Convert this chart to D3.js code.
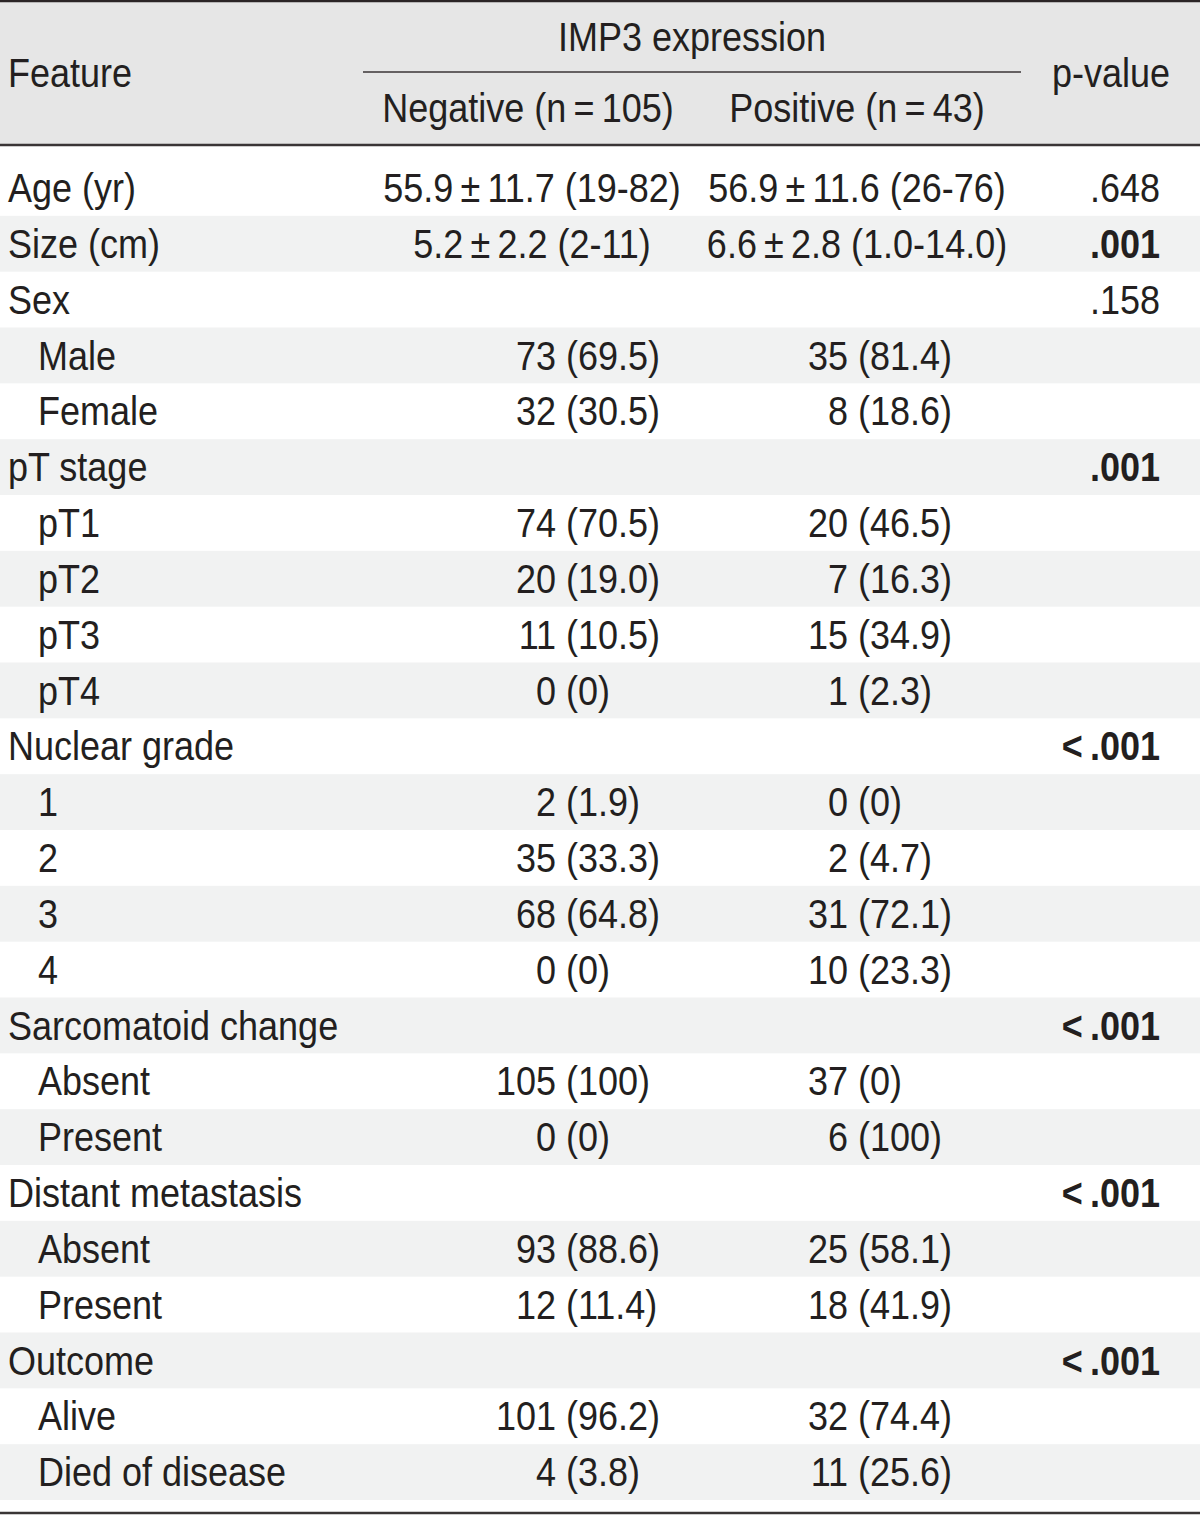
<!DOCTYPE html>
<html>
<head>
<meta charset="utf-8">
<script src="https://cdn.jsdelivr.net/npm/d3@7"></script>
<style>
  body { margin: 0; background: #fff; }
  svg { display: block; }
</style>
</head>
<body>
<div id="chart"></div>
<script>
// Table content
const features = ["Age (yr)", "Size (cm)", "Sex", "Male", "Female", "pT stage", "pT1", "pT2", "pT3", "pT4",
  "Nuclear grade", "1", "2", "3", "4", "Sarcomatoid change", "Absent", "Present",
  "Distant metastasis", "Absent", "Present", "Outcome", "Alive", "Died of disease"];
const indented = [0, 0, 0, 1, 1, 0, 1, 1, 1, 1, 0, 1, 1, 1, 1, 0, 1, 1, 0, 1, 1, 0, 1, 1];
const negative = ["55.9\u2009±\u200911.7 (19-82)", "5.2\u2009±\u20092.2 (2-11)", "", "73 (69.5)", "32 (30.5)", "",
  "74 (70.5)", "20 (19.0)", "11 (10.5)", "0 (0)", "", "2 (1.9)", "35 (33.3)", "68 (64.8)", "0 (0)", "",
  "105 (100)", "0 (0)", "", "93 (88.6)", "12 (11.4)", "", "101 (96.2)", "4 (3.8)"];
const positive = ["56.9\u2009±\u200911.6 (26-76)", "6.6\u2009±\u20092.8 (1.0-14.0)", "", "35 (81.4)", "8 (18.6)", "",
  "20 (46.5)", "7 (16.3)", "15 (34.9)", "1 (2.3)", "", "0 (0)", "2 (4.7)", "31 (72.1)", "10 (23.3)", "",
  "37 (0)", "6 (100)", "", "25 (58.1)", "18 (41.9)", "", "32 (74.4)", "11 (25.6)"];
const pvalues = [".648", ".001", ".158", "", "", ".001", "", "", "", "", "<\u2009.001", "", "", "", "", "<\u2009.001",
  "", "", "<\u2009.001", "", "", "<\u2009.001", "", ""];
const pBold = [0, 1, 0, 0, 0, 1, 0, 0, 0, 0, 1, 0, 0, 0, 0, 1, 0, 0, 1, 0, 0, 1, 0, 0];
const headerGroup = "IMP3 expression";
const headerCols = ["Negative (n\u2009=\u2009105)", "Positive (n\u2009=\u200943)"];

const width = 1200, height = 1515;
const textColor = "#231f20";
const sx = 0.9; // horizontal squeeze to mimic a condensed face

const svg = d3.select("#chart").append("svg")
  .attr("width", width)
  .attr("height", height);

// Row and column scales
const y = d3.scaleBand().domain(d3.range(features.length)).range([160, 1500]);
const col = d3.scaleOrdinal()
  .domain(["feature", "sub", "negCount", "negRest", "negMid", "posCount", "posRest", "posMid", "p", "pHead"])
  .range([8, 38, 556, 566, 532, 848, 858, 857, 1160, 1111]);

function addText(g, x, yy, txt, anchor, weight) {
  return g.append("text")
    .attr("transform", `translate(${x},${yy}) scale(${sx},1)`)
    .attr("text-anchor", anchor || "start")
    .attr("font-family", "'Liberation Sans', Arial, sans-serif")
    .attr("font-size", 40)
    .attr("font-weight", weight || "normal")
    .attr("fill", textColor)
    .text(txt);
}

// Header background
svg.append("rect").attr("x", 0).attr("y", 0).attr("width", width).attr("height", 145)
  .attr("fill", "#e6e6e6");

// Striped rows
svg.selectAll("rect.stripe")
  .data(d3.range(features.length).filter(i => i % 2 === 1))
  .join("rect")
  .attr("class", "stripe")
  .attr("x", 0)
  .attr("y", i => y(i))
  .attr("width", width)
  .attr("height", y.bandwidth())
  .attr("fill", "#f1f2f2");

// Rules
svg.append("line").attr("x1", 0).attr("x2", width).attr("y1", 1).attr("y2", 1)
  .attr("stroke", "#2b2526").attr("stroke-width", 2.5);
svg.append("line").attr("x1", 0).attr("x2", width).attr("y1", 145).attr("y2", 145)
  .attr("stroke", "#3a3536").attr("stroke-width", 2.5);
svg.append("line").attr("x1", 0).attr("x2", width).attr("y1", 1513).attr("y2", 1513)
  .attr("stroke", "#3a3536").attr("stroke-width", 2.5);
svg.append("line").attr("x1", 363).attr("x2", 1021).attr("y1", 72).attr("y2", 72)
  .attr("stroke", "#3a3536").attr("stroke-width", 1.5);

// Header text
const head = svg.append("g");
addText(head, col("feature"), 87, "Feature");
addText(head, 692, 51, headerGroup, "middle");
addText(head, col("negMid") - 4, 122, headerCols[0], "middle");
addText(head, col("posMid"), 122, headerCols[1], "middle");
addText(head, col("pHead"), 87, "p-value", "middle");

// Body text
const body = svg.append("g");
const base = 42;

features.forEach((f, i) => {
  const yy = y(i) + base;
  addText(body, indented[i] ? col("sub") : col("feature"), yy, f);

  [[negative[i], "neg"], [positive[i], "pos"]].forEach(([v, k]) => {
    if (!v) return;
    if (v.includes("±")) {
      addText(body, col(k + "Mid"), yy, v, "middle");
    } else {
      const sp = v.indexOf(" ");
      addText(body, col(k + "Count"), yy, v.slice(0, sp), "end");
      addText(body, col(k + "Rest"), yy, v.slice(sp + 1));
    }
  });

  if (pvalues[i]) addText(body, col("p"), yy, pvalues[i], "end", pBold[i] ? "bold" : "normal");
});
</script>
</body>
</html>
